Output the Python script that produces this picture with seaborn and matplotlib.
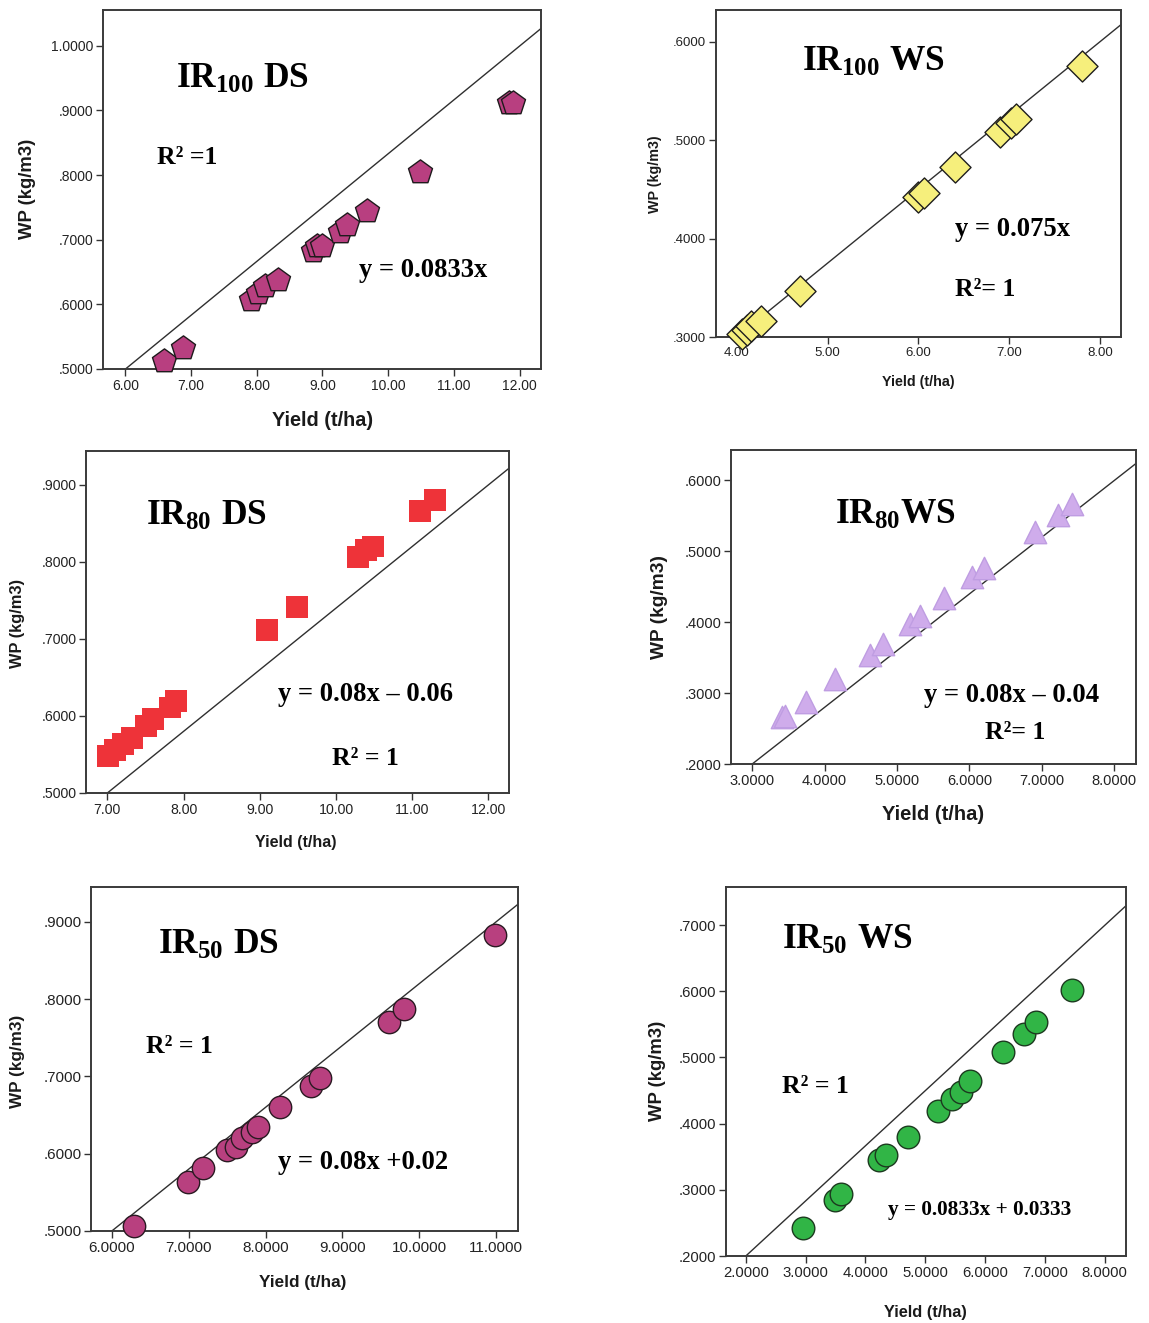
import matplotlib
matplotlib.use("Agg")
import matplotlib.pyplot as plt
import seaborn as sns
from matplotlib.ticker import FixedLocator, FixedFormatter

# ---------------- data ----------------
ir100_ds_yield = [6.59, 6.87, 7.91, 8.02, 8.13, 8.32, 8.86, 8.92, 8.99, 9.27, 9.38, 9.68, 10.48, 11.84, 11.90]
ir100_ds_wp = [0.512, 0.533, 0.607, 0.618, 0.629, 0.638, 0.682, 0.690, 0.691, 0.712, 0.722, 0.745, 0.805, 0.912, 0.911]

ir100_ws_yield = [4.06, 4.11, 4.16, 4.27, 4.70, 6.00, 6.06, 6.40, 6.90, 7.02, 7.08, 7.80]
ir100_ws_wp = [0.303, 0.307, 0.311, 0.316, 0.347, 0.442, 0.446, 0.473, 0.508, 0.517, 0.521, 0.575]

ir80_ds_yield = [7.01, 7.10, 7.21, 7.32, 7.51, 7.60, 7.82, 7.90, 9.10, 9.49, 10.29, 10.39, 10.49, 11.10, 11.30]
ir80_ds_wp = [0.548, 0.556, 0.564, 0.572, 0.587, 0.596, 0.611, 0.620, 0.711, 0.741, 0.807, 0.816, 0.820, 0.866, 0.881]

ir80_ws_yield = [3.41, 3.45, 3.74, 4.15, 4.62, 4.81, 5.18, 5.32, 5.65, 6.04, 6.20, 6.90, 7.22, 7.42]
ir80_ws_wp = [0.266, 0.268, 0.288, 0.320, 0.354, 0.370, 0.398, 0.409, 0.434, 0.464, 0.476, 0.528, 0.552, 0.567]

ir50_ds_yield = [6.29, 6.99, 7.19, 7.50, 7.62, 7.69, 7.82, 7.90, 8.19, 8.59, 8.71, 9.61, 9.80, 10.99]
ir50_ds_wp = [0.506, 0.564, 0.581, 0.605, 0.609, 0.620, 0.628, 0.635, 0.660, 0.688, 0.698, 0.771, 0.787, 0.883]

ir50_ws_yield = [2.95, 3.49, 3.60, 4.23, 4.34, 4.71, 5.21, 5.45, 5.60, 5.75, 6.30, 6.65, 6.85, 7.46]
ir50_ws_wp = [0.242, 0.284, 0.294, 0.345, 0.353, 0.380, 0.419, 0.438, 0.448, 0.464, 0.509, 0.535, 0.554, 0.602]

# regression lines: WP = slope * Yield + intercept
fit_slopes = [0.0833, 0.075, 0.08, 0.08, 0.08, 0.0833]
fit_intercepts = [0.0, 0.0, -0.06, -0.04, 0.02, 0.0333]

titles = [r"$\mathrm{IR_{100}\ DS}$", r"$\mathrm{IR_{100}\ WS}$", r"$\mathrm{IR_{80}\ DS}$",
          r"$\mathrm{IR_{80}WS}$", r"$\mathrm{IR_{50}\ DS}$", r"$\mathrm{IR_{50}\ WS}$"]
equations = ["y = 0.0833x", "y = 0.075x", "y = 0.08x \u2013 0.06",
             "y = 0.08x \u2013 0.04", "y = 0.08x +0.02", "y = 0.0833x + 0.0333"]
r2_labels = ["R\u00b2 =1", "R\u00b2= 1", "R\u00b2 = 1", "R\u00b2= 1", "R\u00b2 = 1", "R\u00b2 = 1"]

x_ticks = [
    [6, 7, 8, 9, 10, 11, 12],
    [4, 5, 6, 7, 8],
    [7, 8, 9, 10, 11, 12],
    [3, 4, 5, 6, 7, 8],
    [6, 7, 8, 9, 10, 11],
    [2, 3, 4, 5, 6, 7, 8],
]
x_tick_labels = [
    ["6.00", "7.00", "8.00", "9.00", "10.00", "11.00", "12.00"],
    ["4.00", "5.00", "6.00", "7.00", "8.00"],
    ["7.00", "8.00", "9.00", "10.00", "11.00", "12.00"],
    ["3.0000", "4.0000", "5.0000", "6.0000", "7.0000", "8.0000"],
    ["6.0000", "7.0000", "8.0000", "9.0000", "10.0000", "11.0000"],
    ["2.0000", "3.0000", "4.0000", "5.0000", "6.0000", "7.0000", "8.0000"],
]
y_ticks = [
    [0.5, 0.6, 0.7, 0.8, 0.9, 1.0],
    [0.3, 0.4, 0.5, 0.6],
    [0.5, 0.6, 0.7, 0.8, 0.9],
    [0.2, 0.3, 0.4, 0.5, 0.6],
    [0.5, 0.6, 0.7, 0.8, 0.9],
    [0.2, 0.3, 0.4, 0.5, 0.6, 0.7],
]
y_tick_labels = [
    [".5000", ".6000", ".7000", ".8000", ".9000", "1.0000"],
    [".3000", ".4000", ".5000", ".6000"],
    [".5000", ".6000", ".7000", ".8000", ".9000"],
    [".2000", ".3000", ".4000", ".5000", ".6000"],
    [".5000", ".6000", ".7000", ".8000", ".9000"],
    [".2000", ".3000", ".4000", ".5000", ".6000", ".7000"],
]
x_label = "Yield (t/ha)"
y_label = "WP (kg/m3)"

# ---------------- style ----------------
sns.set_theme(style="white")
plt.rcParams["font.family"] = ["Liberation Sans", "DejaVu Sans"]
plt.rcParams["mathtext.fontset"] = "custom"
plt.rcParams["mathtext.rm"] = "Liberation Serif:bold"
plt.rcParams["mathtext.it"] = "Liberation Serif:bold"
plt.rcParams["mathtext.bf"] = "Liberation Serif:bold"

W, H = 1149, 1323
fig = plt.figure(figsize=(W / 100, H / 100), dpi=100)
fig.patch.set_facecolor("white")


def fx(x):
    return x / W


def fy(y):
    return 1 - y / H


series = [
    (ir100_ds_yield, ir100_ds_wp),
    (ir100_ws_yield, ir100_ws_wp),
    (ir80_ds_yield, ir80_ds_wp),
    (ir80_ws_yield, ir80_ws_wp),
    (ir50_ds_yield, ir50_ds_wp),
    (ir50_ws_yield, ir50_ws_wp),
]

# panel layout: axes box in pixels (left, top, right, bottom), limits, marker look, text placement
layout = [
    dict(box=(103, 10, 541, 369), xlim=(5.66, 12.325), ylim=(0.5, 1.0553),
         marker="p", s=330, fc="#b83f80", ec="#1e1a1c", lw=1.0,
         tick_fs=10, xl_fs=14.3, yl_fs=13.3, xl_pos=(323, 420), yl_pos=(27, 189),
         title_pos=(176, 88), title_fs=25.5, eq_pos=(359, 277), eq_fs=19.2,
         r2_pos=(157, 164), r2_fs=18.5),
    dict(box=(716, 10, 1121, 337), xlim=(3.772, 8.231), ylim=(0.3, 0.6322),
         marker="D", s=250, fc="#f6ef7c", ec="#1e1e1e", lw=1.0,
         tick_fs=9.5, xl_fs=10.3, yl_fs=10.3, xl_pos=(918, 382), yl_pos=(655, 174),
         title_pos=(802, 71), title_fs=25.5, eq_pos=(955, 236), eq_fs=19.2,
         r2_pos=(955, 296), r2_fs=18.5),
    dict(box=(86, 451, 509, 793), xlim=(6.72, 12.27), ylim=(0.5, 0.944),
         marker="s", s=250, fc="#ee3339", ec="none", lw=0,
         tick_fs=10.2, xl_fs=11.5, yl_fs=11.8, xl_pos=(296, 843), yl_pos=(18, 623),
         title_pos=(146, 525), title_fs=25.5, eq_pos=(278, 701), eq_fs=19.2,
         r2_pos=(332, 765), r2_fs=18.5),
    dict(box=(731, 450, 1136, 764), xlim=(2.707, 8.30), ylim=(0.2, 0.643),
         marker="^", s=260, fc="#cfaceb", ec="#bf9de2", lw=1.0,
         tick_fs=10.5, xl_fs=14.5, yl_fs=13.8, xl_pos=(933, 815), yl_pos=(659, 607),
         title_pos=(835, 524), title_fs=25.5, eq_pos=(924, 702), eq_fs=19.2,
         r2_pos=(985, 739), r2_fs=18.5),
    dict(box=(91, 887, 518, 1231), xlim=(5.729, 11.284), ylim=(0.5, 0.945),
         marker="o", s=260, fc="#b8407f", ec="#2a1a22", lw=1.0,
         tick_fs=11, xl_fs=12.3, yl_fs=12.3, xl_pos=(303, 1283), yl_pos=(18, 1061),
         title_pos=(158, 954), title_fs=25.5, eq_pos=(278, 1169), eq_fs=19.2,
         r2_pos=(146, 1053), r2_fs=18.5),
    dict(box=(726, 887, 1126, 1256), xlim=(1.67, 8.355), ylim=(0.2, 0.7576),
         marker="o", s=265, fc="#31b546", ec="#1c3a1f", lw=1.0,
         tick_fs=10.7, xl_fs=11.8, yl_fs=13.3, xl_pos=(925, 1313), yl_pos=(657, 1071),
         title_pos=(782, 949), title_fs=25.5, eq_pos=(888, 1215), eq_fs=15.3,
         r2_pos=(782, 1093), r2_fs=18.5),
]

serif_bold = dict(family=["Liberation Serif", "DejaVu Serif"], weight="bold", color="black")

for i, cfg in enumerate(layout):
    l, t, r, b = cfg["box"]
    ax = fig.add_axes([fx(l), fy(b), (r - l) / W, (b - t) / H])
    ax.set_facecolor("white")
    x0, x1 = cfg["xlim"]
    ax.set_xlim(x0, x1)
    ax.set_ylim(*cfg["ylim"])

    # fitted line
    m, c = fit_slopes[i], fit_intercepts[i]
    ax.plot([x0, x1], [m * x0 + c, m * x1 + c], color="#2f2f2f", lw=1.0, zorder=1)

    xs, ys = series[i]
    sns.scatterplot(x=xs, y=ys, ax=ax, marker=cfg["marker"], s=cfg["s"],
                    color=cfg["fc"], edgecolor=cfg["ec"], linewidth=cfg["lw"],
                    zorder=3, legend=False, clip_on=False)

    ax.xaxis.set_major_locator(FixedLocator(x_ticks[i]))
    ax.xaxis.set_major_formatter(FixedFormatter(x_tick_labels[i]))
    ax.yaxis.set_major_locator(FixedLocator(y_ticks[i]))
    ax.yaxis.set_major_formatter(FixedFormatter(y_tick_labels[i]))
    ax.tick_params(axis="both", which="major", direction="out", length=5, width=1.0,
                   color="#333333", labelcolor="#222222", labelsize=cfg["tick_fs"],
                   bottom=True, left=True, top=False, right=False, pad=2)

    for sp in ax.spines.values():
        sp.set_visible(True)
        sp.set_color("#3a3a3a")
        sp.set_linewidth(1.4)

    ax.set_xlabel(x_label, fontsize=cfg["xl_fs"], fontweight="bold", color="#1a1a1a")
    ax.set_ylabel(y_label, fontsize=cfg["yl_fs"], fontweight="bold", color="#1a1a1a")
    ax.xaxis.label.set_va("center")
    ax.yaxis.label.set_va("center")
    ax.xaxis.set_label_coords(fx(cfg["xl_pos"][0]), fy(cfg["xl_pos"][1]), transform=fig.transFigure)
    ax.yaxis.set_label_coords(fx(cfg["yl_pos"][0]), fy(cfg["yl_pos"][1]), transform=fig.transFigure)

    fig.text(fx(cfg["title_pos"][0]), fy(cfg["title_pos"][1]), titles[i],
             ha="left", va="baseline", fontsize=cfg["title_fs"], color="black")
    fig.text(fx(cfg["eq_pos"][0]), fy(cfg["eq_pos"][1]), equations[i],
             ha="left", va="baseline", fontsize=cfg["eq_fs"], **serif_bold)
    fig.text(fx(cfg["r2_pos"][0]), fy(cfg["r2_pos"][1]), r2_labels[i],
             ha="left", va="baseline", fontsize=cfg["r2_fs"], **serif_bold)

fig.savefig("out.png", dpi=100, facecolor="white")
